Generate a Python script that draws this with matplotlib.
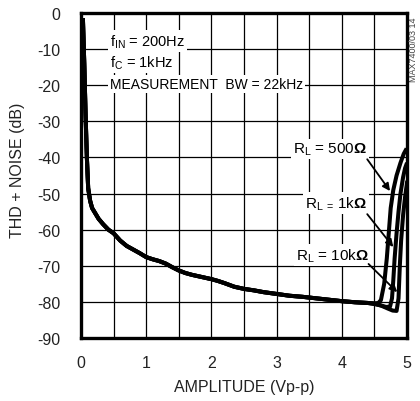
import numpy as np
import matplotlib
matplotlib.use('Agg')
import matplotlib.pyplot as plt
from matplotlib.ticker import MultipleLocator

# shared low-amplitude part of the three curves
amp_low = [0.03, 0.05, 0.07, 0.09, 0.11, 0.14, 0.17, 0.22, 0.27, 0.34, 0.42, 0.5, 0.6, 0.7,
           0.8, 0.9, 1.0, 1.1, 1.2, 1.3, 1.4, 1.5, 1.6, 1.7, 1.8, 1.9, 2.0, 2.1, 2.2, 2.35,
           2.5, 2.65, 2.8, 3.0, 3.2, 3.4, 3.6, 3.8, 4.0, 4.2, 4.4]
thd_low = [-2, -14, -28, -40, -48.5, -52, -54, -55.5, -57, -58.5, -60, -61, -63, -64.5,
           -65.5, -66.5, -67.6, -68.2, -68.7, -69.4, -70.4, -71.3, -72, -72.5, -72.9, -73.3,
           -73.7, -74.2, -74.8, -75.8, -76.4, -76.8, -77.3, -77.8, -78.3, -78.6, -79.0,
           -79.4, -79.8, -80.1, -80.3]

# clipping tails per load
amp_500 = [4.5, 4.56, 4.6, 4.65, 4.69, 4.72, 4.75, 4.79, 4.84, 4.9, 4.95, 4.98]
thd_500 = [-80.4, -80.3, -79.5, -75, -68, -61, -54, -49, -45, -41.5, -39, -38]
amp_1k = [4.5, 4.6, 4.68, 4.74, 4.77, 4.79, 4.81, 4.84, 4.87, 4.9, 4.94, 4.97, 4.99]
thd_1k = [-80.5, -81, -81.4, -81.3, -79, -74, -68, -61, -55, -50, -45.5, -43, -42]
amp_10k = [4.5, 4.6, 4.7, 4.78, 4.84, 4.87, 4.89, 4.91, 4.94, 4.97, 5.0]
thd_10k = [-80.6, -81, -81.8, -82.4, -82.5, -79, -70, -63, -56, -51, -47]

x_ticks = [0, 1, 2, 3, 4, 5]
y_ticks = [0, -10, -20, -30, -40, -50, -60, -70, -80, -90]

plt.rcParams['font.family'] = ['Liberation Sans', 'DejaVu Sans']
plt.rcParams['mathtext.fontset'] = 'custom'
plt.rcParams['mathtext.rm'] = 'Liberation Sans'
plt.rcParams['mathtext.it'] = 'Liberation Sans'
plt.rcParams['mathtext.bf'] = 'Liberation Sans:bold'
plt.rcParams['mathtext.default'] = 'regular'
plt.rcParams['axes.unicode_minus'] = False

fig = plt.figure(figsize=(4.2, 4.02), dpi=100)
ax = fig.add_axes([81/420, 1-339/402, (407-81)/420, (339-14)/402])

for a, t in [(amp_500, thd_500), (amp_1k, thd_1k), (amp_10k, thd_10k)]:
    ax.plot(amp_low + a, thd_low + t, color='black', lw=2.9, solid_joinstyle='round', zorder=3)

ax.set_xlim(0, 5)
ax.set_ylim(-90, 0)
ax.set_xticks(x_ticks)
ax.set_yticks(y_ticks)
ax.xaxis.set_minor_locator(MultipleLocator(0.5))
ax.grid(True, which='both', color='black', lw=0.9)
ax.set_axisbelow(True)
ax.tick_params(which='both', length=0, labelsize=11.5, labelcolor='#222222')
ax.tick_params(axis='y', pad=15)
ax.tick_params(axis='x', pad=12)
for s in ax.spines.values():
    s.set_linewidth(2.4)

fig.text(18/420, 1-170/402, 'THD + NOISE (dB)', rotation=90, ha='center', va='center',
         fontsize=11.5, color='#222222')
fig.text(244/420, 1-388/402, 'AMPLITUDE (Vp-p)', ha='center', va='center', fontsize=11.5,
         color='#222222')
fig.text(413/420, 1-50/402, 'MAX7400/03 14', rotation=90, ha='center', va='center',
         fontsize=6.5, color='#444444')

box = dict(facecolor='white', edgecolor='none', pad=1.5)
ax.text(0.44, -7.8, 'f$_{IN}$ = 200Hz', fontsize=10.5, va='center', bbox=box, zorder=4)
ax.text(0.44, -13.6, 'f$_{C}$ = 1kHz', fontsize=10.5, va='center', bbox=box, zorder=4)
ax.text(0.44, -19.7, 'MEASUREMENT  BW = 22kHz', fontsize=10, va='center', bbox=box, zorder=4)

ax.text(4.39, -37.7, 'R$_L$ = 500$\\mathbf{\\Omega}$', fontsize=11, ha='right', va='center',
        bbox=box, zorder=4)
ax.text(4.39, -52.6, 'R$_{L\\ =}\\,$1k$\\mathbf{\\Omega}$', fontsize=11, ha='right', va='center',
        bbox=box, zorder=4)
ax.text(4.42, -67, 'R$_L$ = 10k$\\mathbf{\\Omega}$', fontsize=11, ha='right', va='center',
        bbox=box, zorder=4)

arrow = dict(arrowstyle='-|>', color='black', lw=1.3, mutation_scale=11, shrinkA=0, shrinkB=0)
ax.annotate('', xy=(4.74, -49.3), xytext=(4.39, -40.5), arrowprops=arrow, zorder=5)
ax.annotate('', xy=(4.79, -64.8), xytext=(4.39, -55.7), arrowprops=arrow, zorder=5)
ax.annotate('', xy=(4.85, -77.3), xytext=(4.41, -69.5), arrowprops=arrow, zorder=5)

fig.savefig('out.png', dpi=100)
